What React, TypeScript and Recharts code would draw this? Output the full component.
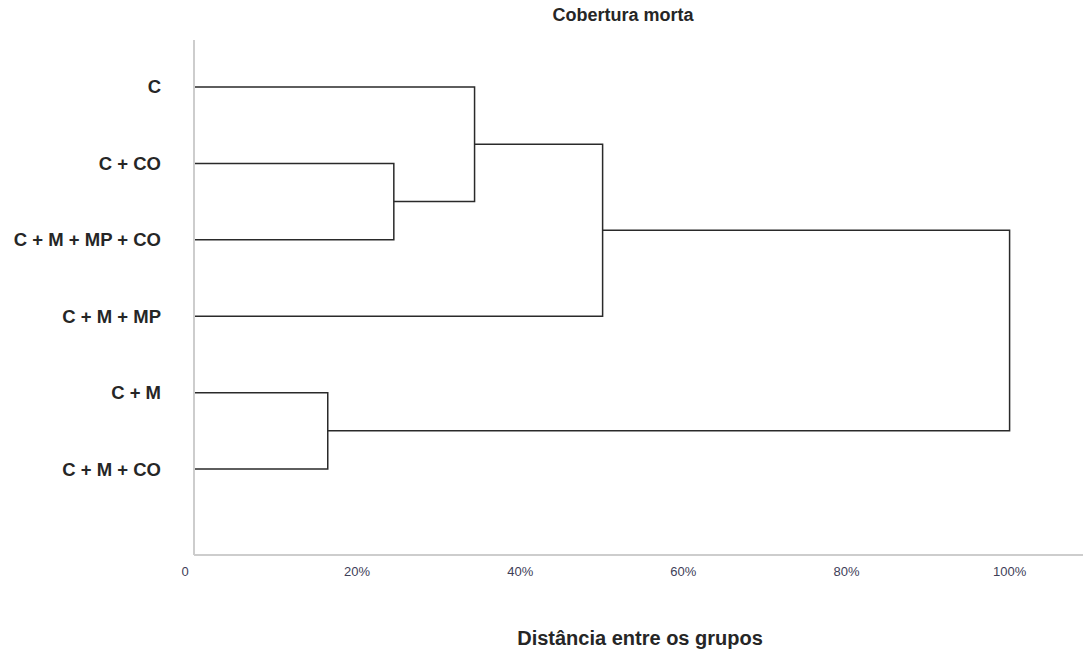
import React from 'react';
import { LineChart, Line, XAxis, YAxis } from 'recharts';

// leaf order top to bottom
const leaves = ['C', 'C + CO', 'C + M + MP + CO', 'C + M + MP', 'C + M', 'C + M + CO'];

// linkage: children refer to leaves as "L<n>" (0-based) or merges as "N<n>"
const mergeLeft = ['L1', 'L0', 'N1', 'L4', 'N2'];
const mergeRight = ['L2', 'N0', 'L3', 'L5', 'N3'];
const mergeHeights = [0.245, 0.344, 0.501, 0.164, 1.0];

const xTicks = [0, 0.2, 0.4, 0.6, 0.8, 1.0];
const xTickLabels = ['0', '20%', '40%', '60%', '80%', '100%'];

type Pt = { x: number; y: number };

const nodePos = (ref: string, centers: number[]): Pt => {
  const i = Number(ref.slice(1));
  if (ref[0] === 'L') return { x: 0, y: i + 1 };
  return { x: mergeHeights[i], y: centers[i] };
};

const buildLinks = () => {
  const centers: number[] = [];
  const links: Pt[][] = [];
  mergeHeights.forEach((h, i) => {
    const a = nodePos(mergeLeft[i], centers);
    const b = nodePos(mergeRight[i], centers);
    centers[i] = (a.y + b.y) / 2;
    links.push([a, { x: h, y: a.y }, { x: h, y: b.y }, b]);
  });
  return links;
};

const links = buildLinks();

const font = "'Liberation Sans', Arial, sans-serif";

const LeafTick = (props: any) => {
  const { y, payload } = props;
  const label = leaves[payload.value - 1];
  if (!label) return null;
  return (
    <text x={161} y={y} dy={6.5} textAnchor="end" fontSize={18.5} fontWeight="bold" fill="#262626"
      fontFamily={font}>
      {label}
    </text>
  );
};

const DistTick = (props: any) => {
  const { x, y, payload } = props;
  const idx = xTicks.indexOf(payload.value);
  return (
    <text x={payload.value === 0 ? x - 9 : x} y={y} dy={13} textAnchor="middle" fontSize={13}
      fill="#3e4058" fontFamily={font}>
      {xTickLabels[idx]}
    </text>
  );
};

const App: React.FC = () => {
  return (
    <div style={{ position: 'absolute', left: 0, top: 0, width: 1089, height: 655, background: '#fff' }}>
      <LineChart width={1089} height={655} margin={{ top: 40, right: 6, bottom: 70, left: 0 }}>
        <XAxis type="number" dataKey="x" domain={[0, 1.09]} ticks={xTicks} tick={<DistTick />}
          tickLine={false} axisLine={{ stroke: '#cdcdcd', strokeWidth: 2 }} height={30}
          allowDataOverflow />
        <YAxis type="number" dataKey="y" domain={[0.385, 7.125]} reversed ticks={[1, 2, 3, 4, 5, 6]}
          tick={<LeafTick />} tickLine={false} axisLine={{ stroke: '#cdcdcd', strokeWidth: 2 }}
          width={194} allowDataOverflow />
        {links.map((pts, i) => (
          <Line key={i} data={pts} dataKey="y" type="linear" stroke="#2a2a2a" strokeWidth={1.5}
            dot={false} activeDot={false} isAnimationActive={false} />
        ))}
      </LineChart>
      <div style={{ position: 'absolute', left: 0, width: 1246, top: 5, textAlign: 'center',
        fontFamily: font, fontWeight: 'bold', fontSize: 18, color: '#262626' }}>
        Cobertura morta
      </div>
      <div style={{ position: 'absolute', left: 0, width: 1280, top: 627, textAlign: 'center',
        fontFamily: font, fontWeight: 'bold', fontSize: 20, color: '#262626' }}>
        Distância entre os grupos
      </div>
    </div>
  );
};

export default App;
